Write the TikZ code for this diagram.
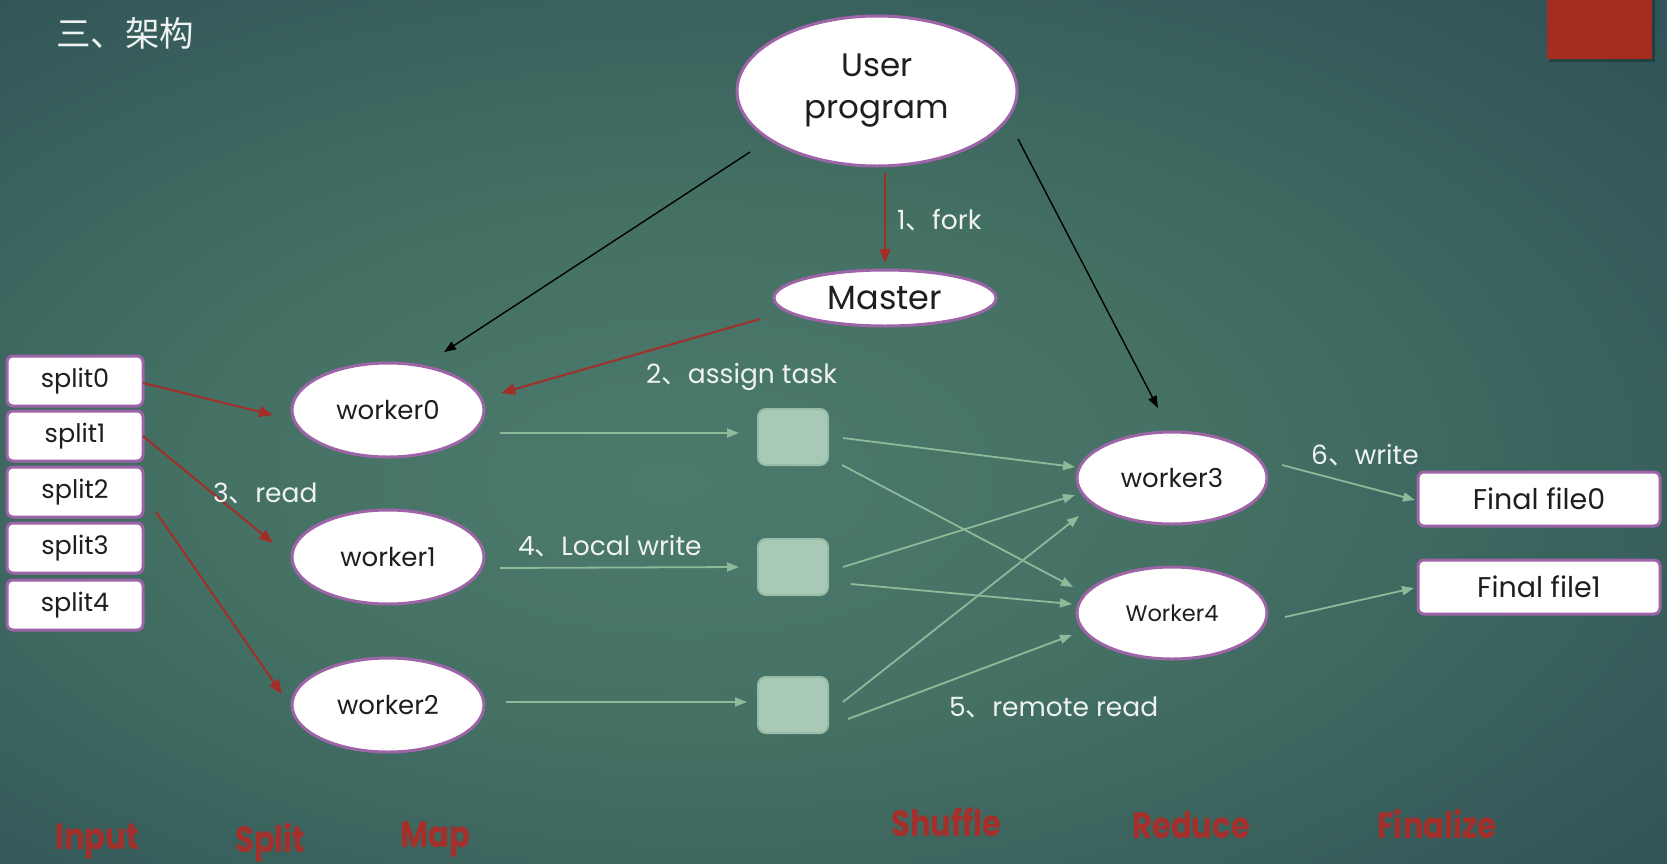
\documentclass[tikz,border=0pt]{standalone}
\usepackage{fontspec}
\setmainfont{Poppins}
\newfontfamily\cjk{Noto Sans CJK SC}
\newfontfamily\stagefont[FakeStretch=0.84]{Poppins}
\usetikzlibrary{arrows.meta,shapes.geometric}
\newcommand\dn{{\cjk 、}}
\definecolor{bgin}{HTML}{4B7A6C}
\definecolor{bgA}{HTML}{457164}
\definecolor{bgB}{HTML}{315658}
\definecolor{bgC}{HTML}{25454E}
\definecolor{bgD}{HTML}{1C3844}
\definecolor{purp}{HTML}{9E64A8}
\definecolor{redc}{HTML}{A32E28}
\definecolor{rectred}{HTML}{A42D22}
\definecolor{stagered}{HTML}{A52F2A}
\definecolor{gfill}{HTML}{A8C9B5}
\definecolor{gdraw}{HTML}{98BCA6}
\definecolor{grn}{HTML}{8DBB9A}
\definecolor{txt}{HTML}{1E1E1E}
\definecolor{lbltxt}{HTML}{EEF2F0}
\pgfdeclareradialshading{bgshade}{\pgfpoint{-5bp}{-3bp}}{color(0bp)=(bgin); color(15bp)=(bgA); color(35bp)=(bgB); color(50bp)=(bgC); color(75bp)=(bgD)}
\begin{document}
\begin{tikzpicture}[x=1pt,y=-1pt,
  ell/.style={ellipse, draw=purp, line width=3pt, fill=white, inner sep=1pt, text=txt},
  splitbox/.style={rectangle, rounded corners=6pt, draw=purp, line width=3pt, fill=white,
    minimum width=136pt, minimum height=50pt, inner sep=0pt, text=txt, font=\fontsize{25.5}{29}\selectfont},
  filebox/.style={rectangle, rounded corners=6pt, draw=purp, line width=3pt, fill=white,
    minimum width=242pt, minimum height=54pt, inner sep=0pt, text=txt, font=\fontsize{28.5}{32}\selectfont},
  gbox/.style={rectangle, rounded corners=8pt, fill=gfill, draw=gdraw, line width=2pt,
    minimum width=70pt, minimum height=56pt},
  redarr/.style={draw=redc, line width=2pt, -{Triangle[length=14pt,width=11pt]}},
  blkarr/.style={draw=black, line width=1.4pt, -{Triangle[length=12pt,width=9pt]}},
  grnarr/.style={draw=grn, line width=1.8pt, -{Triangle[length=12pt,width=9pt]}},
  lbl/.style={text=lbltxt, anchor=west, inner sep=0pt, font=\fontsize{26.5}{30}\selectfont},
  stage/.style={text=stagered, anchor=base west, inner sep=0pt, font=\stagefont\bfseries\fontsize{36.5}{40}\selectfont},
]
\useasboundingbox (0,0) rectangle (1667,863);
\shade[shading=bgshade] (0,0) rectangle (1667,863);

% title and corner block
\node[text=lbltxt, anchor=west, inner sep=0pt, font=\cjk\fontsize{34.5}{38}\selectfont] (title) at (56,33) {三、架构};
\fill[black, opacity=0.25] (1550,0) rectangle (1655,62);
\fill[rectred] (1547,0) rectangle (1652,59);

% nodes
\node[ell, minimum width=280pt, minimum height=150pt, align=center, font=\fontsize{32.5}{42}\selectfont] (up) at (877,91) {User\\program};
\node[ell, minimum width=222pt, minimum height=56pt, font=\fontsize{33.5}{37}\selectfont] (master) at (885,298) {Master};
\node[ell, minimum width=192pt, minimum height=94pt, font=\fontsize{26}{30}\selectfont] (w0) at (388,410) {worker0};
\node[ell, minimum width=192pt, minimum height=94pt, font=\fontsize{26}{30}\selectfont] (w1) at (388,557) {worker1};
\node[ell, minimum width=192pt, minimum height=94pt, font=\fontsize{26}{30}\selectfont] (w2) at (388,705) {worker2};
\node[ell, minimum width=190pt, minimum height=92pt, font=\fontsize{26}{30}\selectfont] (w3) at (1172,478) {worker3};
\node[ell, minimum width=190pt, minimum height=92pt, font=\fontsize{22.5}{26}\selectfont] (w4) at (1172,613) {Worker4};

\node[splitbox] (s0) at (75,381) {split0};
\node[splitbox] (s1) at (75,436) {split1};
\node[splitbox] (s2) at (75,492) {split2};
\node[splitbox] (s3) at (75,548) {split3};
\node[splitbox] (s4) at (75,605) {split4};

\node[gbox] (b1) at (793,437) {};
\node[gbox] (b2) at (793,567) {};
\node[gbox] (b3) at (793,705) {};

\node[filebox] (f0) at (1539,499) {Final file0};
\node[filebox] (f1) at (1539,587) {Final file1};

% connectors
\draw[blkarr] ([shift={(-127,61)}]up.center) -- ([shift={(56,-58)}]w0.center);
\draw[blkarr] ([shift={(141,48)}]up.center) -- ([shift={(-14,-70)}]w3.center);
\draw[redarr] ([shift={(8,82)}]up.center) -- ([shift={(0,-35)}]master.center);
\draw[redarr] ([shift={(-125,21)}]master.center) -- ([shift={(113,-17)}]w0.center);
\draw[redarr] ([shift={(68,2)}]s0.center) -- ([shift={(-115,5)}]w0.center);
\draw[redarr] ([shift={(68,0)}]s1.center) -- ([shift={(-115,-14)}]w1.center);
\draw[redarr] ([shift={(81,20)}]s2.center) -- ([shift={(-106,-11)}]w2.center);

\draw[grnarr] ([shift={(112,23)}]w0.center) -- ([shift={(-54,-4)}]b1.center);
\draw[grnarr] ([shift={(112,11)}]w1.center) -- ([shift={(-54,0)}]b2.center);
\draw[grnarr] ([shift={(118,-3)}]w2.center) -- ([shift={(-46,-3)}]b3.center);

\draw[grnarr] ([shift={(50,1)}]b1.center) -- ([shift={(-97,-11)}]w3.center);
\draw[grnarr] ([shift={(49,28)}]b1.center) -- ([shift={(-99,-26)}]w4.center);
\draw[grnarr] ([shift={(50,0)}]b2.center) -- ([shift={(-97,17)}]w3.center);
\draw[grnarr] ([shift={(58,17)}]b2.center) -- ([shift={(-100,-9)}]w4.center);
\draw[grnarr] ([shift={(50,-3)}]b3.center) -- ([shift={(-93,38)}]w3.center);
\draw[grnarr] ([shift={(55,14)}]b3.center) -- ([shift={(-100,22)}]w4.center);

\draw[grnarr] ([shift={(110,-13)}]w3.center) -- ([shift={(-124,1)}]f0.center);
\draw[grnarr] ([shift={(113,4)}]w4.center) -- ([shift={(-125,1)}]f1.center);

% labels
\node[lbl] (l1) at (897,220) {1\dn fork};
\node[lbl] (l2) at (646,377) {2\dn assign task};
\node[lbl] (l3) at (213,493) {3\dn read};
\node[lbl] (l4) at (518,546) {4\dn Local write};
\node[lbl] (l5) at (949,707) {5\dn remote read};
\node[lbl] (l6) at (1311,455) {6\dn write};

% stage names
\node[stage] (st1) at (55,849) {Input};
\node[stage] (st2) at (235,852) {Split};
\node[stage] (st3) at (400,847) {Map};
\node[stage] (st4) at (891,836) {Shuffle};
\node[stage] (st5) at (1132,838) {Reduce};
\node[stage] (st6) at (1377,838) {Finalize};
\end{tikzpicture}
\end{document}
